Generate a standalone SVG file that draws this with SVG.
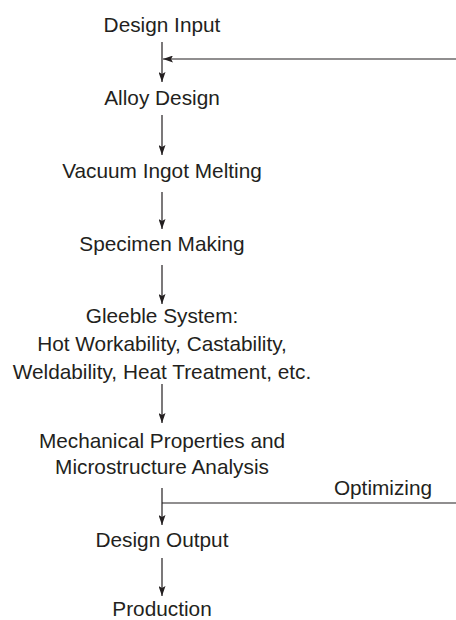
<svg xmlns="http://www.w3.org/2000/svg" width="456" height="620" viewBox="0 0 456 620">
<style>
text{font-family:"Liberation Sans",Arial,sans-serif;font-size:20.8px;fill:#231f20;text-anchor:middle}
.c{stroke:#231f20;stroke-width:1.2;fill:none}
</style>
<defs>
<marker id="ah" viewBox="0 0 10 10" refX="10" refY="5" markerWidth="10" markerHeight="7" markerUnits="userSpaceOnUse" orient="auto" preserveAspectRatio="none">
<path d="M0,0 L10,5 L0,10 L2,5 z" fill="#231f20"/>
</marker>
</defs>
<rect width="456" height="620" fill="#fff"/>
<g id="connectors">
<path class="c" d="M162,42 V82" marker-end="url(#ah)"/>
<path class="c" d="M456,59 H163" marker-end="url(#ah)"/>
<path class="c" d="M162,115 V155" marker-end="url(#ah)"/>
<path class="c" d="M162,192 V229" marker-end="url(#ah)"/>
<path class="c" d="M162,265 V304" marker-end="url(#ah)"/>
<path class="c" d="M162,384 V423" marker-end="url(#ah)"/>
<path class="c" d="M162,488 V525" marker-end="url(#ah)"/>
<path class="c" d="M162,503 H456"/>
<path class="c" d="M162,558 V596" marker-end="url(#ah)"/>
</g>
<g id="design-input"><text x="162" y="32">Design Input</text></g>
<g id="alloy-design"><text x="162" y="105">Alloy Design</text></g>
<g id="vacuum-ingot-melting"><text x="162" y="178">Vacuum Ingot Melting</text></g>
<g id="specimen-making"><text x="162" y="251">Specimen Making</text></g>
<g id="gleeble-system"><text x="162" y="323">Gleeble System:</text><text x="162" y="351">Hot Workability, Castability,</text><text x="162" y="379">Weldability, Heat Treatment, etc.</text></g>
<g id="mechanical-properties"><text x="162" y="448">Mechanical Properties and</text><text x="162" y="474">Microstructure Analysis</text></g>
<g id="optimizing-label"><text x="383" y="495">Optimizing</text></g>
<g id="design-output"><text x="162" y="547">Design Output</text></g>
<g id="production"><text x="162" y="616">Production</text></g>
</svg>
